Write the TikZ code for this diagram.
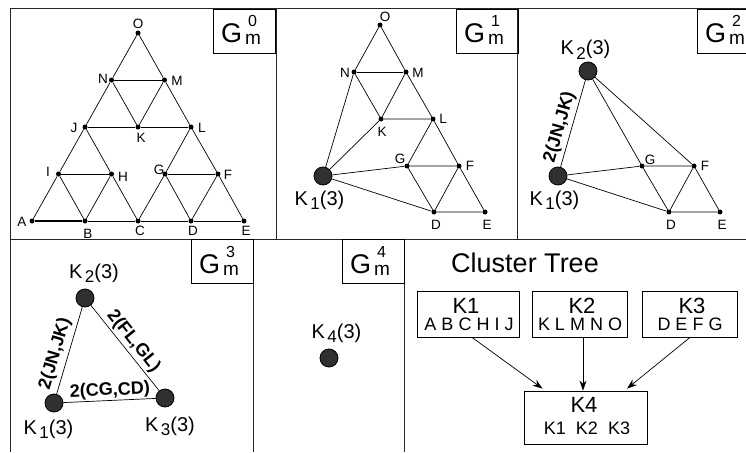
\documentclass[tikz,border=0pt]{standalone}
\usepackage{fontspec}
\setmainfont{Liberation Sans}
\usetikzlibrary{arrows.meta}
\definecolor{kfill}{HTML}{303030}
\newcommand\kname[1]{K\kern2.5pt\raisebox{-4.5pt}{\fontsize{17}{17}\selectfont #1}(3)}
\tikzset{
  v/.style={circle, fill=black, inner sep=0pt, minimum size=5pt},
  kn/.style={circle, fill=kfill, draw=black, line width=0.8pt, inner sep=0pt, minimum size=18pt},
  vl/.style={inner sep=0pt, font=\fontsize{13.5}{13.5}\selectfont},
  kl/.style={inner sep=0pt, anchor=base, font=\fontsize{20}{20}\selectfont},
  el/.style={font=\fontsize{18}{18}\selectfont\bfseries, inner sep=1pt, sloped},
  ln/.style={line width=0.7pt},
  frm/.style={line width=1pt, draw=black!85},
  gline/.style={line width=0.9pt},
  gG/.style={anchor=base west, inner sep=0pt, font=\fontsize{27}{27}\selectfont},
  gS/.style={anchor=base west, inner sep=0pt, font=\fontsize{16}{16}\selectfont},
  gM/.style={anchor=base west, inner sep=0pt, font=\fontsize{19}{19}\selectfont},
  tbox/.style={draw, line width=0.8pt, inner sep=0pt},
  tt/.style={anchor=base, inner sep=0pt, font=\fontsize{22}{22}\selectfont},
  ts/.style={anchor=base, inner sep=0pt, font=\fontsize{18}{18}\selectfont},
  arr/.style={-{Stealth[length=10pt,width=7pt]}, line width=0.7pt},
}
\newcommand\gbox[4]{%
  \draw[gline] (#1,#2) rectangle ({#1+62},{#2+44});
  \node[gG] (#4g) at ({#1+8},{#2+34}) {G};
  \node[gS] (#4s) at ({#1+35},{#2+18}) {#3};
  \node[gM] (#4m) at ({#1+32},{#2+36}) {m};
}
\begin{document}
\begin{tikzpicture}[x=1pt,y=-1pt]
\useasboundingbox (0,0) rectangle (746,452);
\clip (0,0) rectangle (746,452);
\fill[white] (0,0) rectangle (746,452);

% panel frames
\draw[frm] (10.5,8.5) -- (746,8.5);
\draw[frm] (10.5,8.5) -- (10.5,452);
\draw[frm] (276,8.5) -- (276,239);
\draw[frm] (517,8.5) -- (517,239);
\draw[frm] (10.5,239) -- (746,239);
\draw[frm] (253,239) -- (253,452);
\draw[frm] (404,239) -- (404,452);

% G labels
\gbox{213}{9}{0}{b0}
\gbox{456}{9}{1}{b1}
\gbox{697}{9}{2}{b2}
\gbox{191}{239}{3}{b3}
\gbox{342}{239}{4}{b4}

% ---------- G0 ----------
\node[v] (O0) at (138,33) {};
\node[v] (N0) at (111.5,80) {};
\node[v] (M0) at (164.5,80) {};
\node[v] (J0) at (85,127) {};
\node[v] (K0) at (138,127) {};
\node[v] (L0) at (191,127) {};
\node[v] (I0) at (58.5,174) {};
\node[v] (H0) at (111.5,174) {};
\node[v] (G0) at (165,174) {};
\node[v] (F0) at (218,174) {};
\node[v] (A0) at (32,221) {};
\node[v] (B0) at (85,221) {};
\node[v] (C0) at (138,221) {};
\node[v] (D0) at (191,221) {};
\node[v] (E0) at (244,221) {};
\draw[ln] (A0) -- (I0) -- (J0) -- (N0) -- (O0) -- (M0) -- (L0) -- (F0) -- (E0);
\draw[line width=1.4pt] (A0) -- (B0);
\draw[ln] (B0) -- (C0) -- (D0) -- (E0);
\draw[ln] (N0) -- (M0);
\draw[ln] (J0) -- (K0) -- (L0);
\draw[ln] (I0) -- (H0);
\draw[ln] (G0) -- (F0);
\draw[ln] (N0) -- (K0) -- (M0);
\draw[ln] (J0) -- (H0) -- (C0);
\draw[ln] (I0) -- (B0) -- (H0);
\draw[ln] (L0) -- (G0) -- (C0);
\draw[ln] (G0) -- (D0) -- (F0);
\node[vl] (lO0) at (138,24) {O};
\node[vl] (lN0) at (103,79) {N};
\node[vl] (lM0) at (177,81) {M};
\node[vl] (lJ0) at (74,128) {J};
\node[vl] (lK0) at (141,138) {K};
\node[vl] (lL0) at (202,128) {L};
\node[vl] (lI0) at (48,172) {I};
\node[vl] (lH0) at (123,177) {H};
\node[vl] (lG0) at (159,170) {G};
\node[vl] (lF0) at (228,175) {F};
\node[vl] (lA0) at (22,222) {A};
\node[vl] (lB0) at (88,234) {B};
\node[vl] (lC0) at (140,231) {C};
\node[vl] (lD0) at (193,231) {D};
\node[vl] (lE0) at (246,231) {E};

% ---------- G1 ----------
\node[v] (O1) at (380,25) {};
\node[v] (N1) at (354,72) {};
\node[v] (M1) at (406,72) {};
\node[v] (K1) at (381,119) {};
\node[v] (L1) at (433,119) {};
\node[v] (G1) at (407,166) {};
\node[v] (F1) at (459,166) {};
\node[v] (D1) at (434,212) {};
\node[v] (E1) at (485,212) {};
\node[kn] (Ka) at (323,176) {};
\draw[ln] (N1) -- (O1) -- (M1) -- (L1) -- (F1) -- (E1) -- (D1);
\draw[ln] (N1) -- (M1);
\draw[ln] (N1) -- (K1) -- (M1);
\draw[ln] (K1) -- (L1) -- (G1) -- (F1) -- (D1) -- (G1);
\draw[ln] (Ka) -- (N1);
\draw[ln] (Ka) -- (K1);
\draw[ln] (Ka) -- (G1);
\draw[ln] (Ka) -- (D1);
\node[vl] (lO1) at (385,17) {O};
\node[vl] (lN1) at (345,73) {N};
\node[vl] (lM1) at (418,73) {M};
\node[vl] (lK1) at (382,132) {K};
\node[vl] (lL1) at (443,119) {L};
\node[vl] (lG1) at (400,159) {G};
\node[vl] (lF1) at (470,166) {F};
\node[vl] (lD1) at (436,225) {D};
\node[vl] (lE1) at (487,225) {E};
\node[kl] (lKa) at (319.5,205) {\kname{1}};

% ---------- G2 ----------
\node[v] (G2) at (642,166) {};
\node[v] (F2) at (694,166) {};
\node[v] (D2) at (669,212) {};
\node[v] (E2) at (720,212) {};
\node[kn] (Kb2) at (588,71) {};
\node[kn] (Kb1) at (558,176) {};
\draw[ln] (Kb1) -- node[el, pos=0.42, above=2pt] {2(JN,JK)} (Kb2);
\draw[ln] (Kb2) -- (G2);
\draw[ln] (Kb2) -- (F2);
\draw[ln] (Kb1) -- (G2);
\draw[ln] (Kb1) -- (D2);
\draw[ln] (G2) -- (F2) -- (E2) -- (D2) -- (G2);
\draw[ln] (F2) -- (D2);
\node[vl] (lG2) at (650,160) {G};
\node[vl] (lF2) at (705,166) {F};
\node[vl] (lD2) at (671,225) {D};
\node[vl] (lE2) at (722,225) {E};
\node[kl] (lKb2) at (585.5,55) {\kname{2}};
\node[kl] (lKb1) at (554.5,205) {\kname{1}};

% ---------- G3 ----------
\node[kn] (Kc2) at (85,298) {};
\node[kn] (Kc1) at (54,403) {};
\node[kn] (Kc3) at (165,398) {};
\draw[ln] (Kc1) -- node[el, pos=0.42, above=3pt] {2(JN,JK)} (Kc2);
\draw[ln] (Kc2) -- node[el, pos=0.5, above=1pt] {2(FL,GL)} (Kc3);
\draw[ln] (Kc1) -- node[el, pos=0.51, above=0pt] {2(CG,CD)} (Kc3);
\node[kl] (lKc2) at (94,278) {\kname{2}};
\node[kl] (lKc1) at (48.5,434) {\kname{1}};
\node[kl] (lKc3) at (170,431) {\kname{3}};

% ---------- G4 ----------
\node[kn] (Kd4) at (329,358) {};
\node[kl] (lKd4) at (336.5,338) {\kname{4}};

% ---------- Cluster tree ----------
\node[anchor=base, inner sep=0pt, font=\fontsize{27}{27}\selectfont] (title) at (525,272) {Cluster Tree};
\node[tbox, minimum width=102pt, minimum height=46pt] (T1) at (468,314) {};
\node[tt] (T1a) at (466,313) {K1};
\node[ts] (T1b) at (469,330) {A B C H I J};
\node[tbox, minimum width=95pt, minimum height=46pt] (T2) at (579.5,314) {};
\node[tt] (T2a) at (582,313) {K2};
\node[ts] (T2b) at (580,330) {K L M N O};
\node[tbox, minimum width=95pt, minimum height=46pt] (T3) at (689.5,314) {};
\node[tt] (T3a) at (692,313) {K3};
\node[ts] (T3b) at (690,330) {D E F G};
\node[tbox, minimum width=123pt, minimum height=53pt] (T4) at (585.5,417.5) {};
\node[tt] (T4a) at (584,412) {K4};
\node[anchor=base, inner sep=0pt, font=\fontsize{18}{18}\selectfont] (T4b) at (587,434) {K1\ \ K2\ \ K3};
\draw[arr] ([xshift=4pt]T1.south) -- ([xshift=-43pt,yshift=2pt]T4.north);
\draw[arr] ([xshift=3.5pt]T2.south) -- ([xshift=-2.5pt]T4.north);
\draw[arr] ([xshift=0.5pt]T3.south) -- ([xshift=41.5pt,yshift=2pt]T4.north);
\end{tikzpicture}
\end{document}
